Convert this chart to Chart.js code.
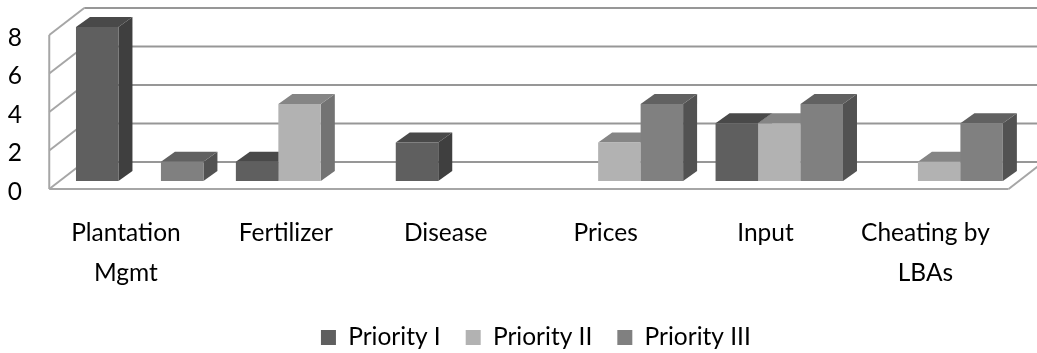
<!DOCTYPE html>
<html>
<head>
<meta charset="utf-8">
<style>
  html, body { margin: 0; padding: 0; background: #fff; }
  #chartBox { position: relative; width: 1037px; height: 353px; }
</style>
<script src="https://cdn.jsdelivr.net/npm/chart.js@4/dist/chart.umd.min.js"></script>
</head>
<body>
<div id="chartBox"><canvas id="priorityChart"></canvas></div>
<script>
const categories = [['Plantation', 'Mgmt'], 'Fertilizer', 'Disease', 'Prices', 'Input', ['Cheating by', 'LBAs']];
const priorityI = [8, 1, 2, null, 3, null];
const priorityII = [null, 4, null, 2, 3, 1];
const priorityIII = [1, null, null, 4, 4, 3];

// front, top and side shades of each series
const shades = [
    { front: '#5f5f5f', top: '#494949', side: '#3f3f3f' },
    { front: '#b2b2b2', top: '#858585', side: '#737373' },
    { front: '#808080', top: '#616161', side: '#525252' }
];

// box walls sit around the plane of the bars
const backDx = 24.5, backDy = -19;
const frontDx = -10.5, frontDy = 8;
const barDx = 14, barDy = -10;

function poly(ctx, pts, fill) {
    ctx.beginPath();
    pts.forEach((p, i) => i ? ctx.lineTo(p[0], p[1]) : ctx.moveTo(p[0], p[1]));
    ctx.closePath();
    ctx.fillStyle = fill;
    ctx.fill();
}

function line(ctx, x1, y1, x2, y2, color) {
    ctx.beginPath();
    ctx.moveTo(x1, y1);
    ctx.lineTo(x2, y2);
    ctx.strokeStyle = color;
    ctx.stroke();
}

const box3d = {
    id: 'box3d',
    afterLayout(chart) {
        // legend sits off-centre, under the box rather than the canvas
        chart.legend.left += 26;
        chart.legend.right += 26;
        chart.legend.top += 6.75;
        chart.legend.bottom += 6.75;
    },
    beforeDatasetsDraw(chart) {
        const ctx = chart.ctx;
        const { left, right } = chart.chartArea;
        const yScale = chart.scales.y;
        ctx.save();
        ctx.lineWidth = 2;

        // walls and gridlines
        yScale.ticks.forEach(t => {
            const y = yScale.getPixelForValue(t.value);
            line(ctx, left + backDx, y + backDy, right + backDx, y + backDy, '#979797');
            line(ctx, left + frontDx, y + frontDy, left + backDx, y + backDy, '#a6a6a6');
        });
        const y0 = yScale.getPixelForValue(0), y8 = yScale.getPixelForValue(8);
        line(ctx, left + frontDx, y0 + frontDy, left + frontDx, y8 + frontDy, '#a6a6a6');
        line(ctx, left + frontDx, y0 + frontDy, right + frontDx, y0 + frontDy, '#a6a6a6');
        line(ctx, right + frontDx, y0 + frontDy, right + backDx, y0 + backDy, '#a6a6a6');

        // tops and sides go behind the front faces chart.js paints
        chart.data.datasets.forEach((ds, i) => {
            chart.getDatasetMeta(i).data.forEach((bar, j) => {
                if (ds.data[j] === null) return;
                const x1 = bar.x - bar.width / 2, x2 = bar.x + bar.width / 2;
                poly(ctx, [[x2, bar.y], [x2 + barDx, bar.y + barDy], [x2 + barDx, bar.base + barDy], [x2, bar.base]], shades[i].side);
                poly(ctx, [[x1, bar.y], [x1 + barDx, bar.y + barDy], [x2 + barDx, bar.y + barDy], [x2, bar.y]], shades[i].top);
            });
        });
        ctx.restore();
    }
};

new Chart(document.getElementById('priorityChart'), {
    type: 'bar',
    data: {
        labels: categories,
        datasets: [
            { label: 'Priority I', data: priorityI, backgroundColor: shades[0].front },
            { label: 'Priority II', data: priorityII, backgroundColor: shades[1].front },
            { label: 'Priority III', data: priorityIII, backgroundColor: shades[2].front }
        ]
    },
    options: {
        responsive: true,
        maintainAspectRatio: false,
        animation: false,
        categoryPercentage: 0.797,
        barPercentage: 1,
        layout: { padding: { left: 0, right: 17.25, top: 27, bottom: 0 } },
        scales: {
            x: {
                grid: { display: false, drawTicks: false },
                border: { display: false },
                afterFit: s => { s.height = 112.5; },
                ticks: {
                    color: '#000',
                    font: { family: 'Lato', size: 24.5, lineHeight: 1.633 },
                    padding: 32,
                    labelOffset: -13.75,
                    maxRotation: 0,
                    autoSkip: false
                }
            },
            y: {
                min: 0,
                max: 8,
                grid: { display: false, drawTicks: false },
                border: { display: false },
                afterFit: s => {
                    s.width = 59.75;
                    s.paddingTop = 0;
                    s.paddingBottom = 0;
                },
                ticks: {
                    color: '#000',
                    stepSize: 2,
                    font: { family: 'Lato', size: 24.5 },
                    padding: 37.75,
                    labelOffset: 11
                }
            }
        },
        plugins: {
            tooltip: { enabled: false },
            legend: {
                position: 'bottom',
                labels: {
                    color: '#000',
                    font: { family: 'Lato', size: 24.5 },
                    boxWidth: 15,
                    boxHeight: 15,
                    padding: 25
                }
            }
        }
    },
    plugins: [box3d]
});
</script>
</body>
</html>
